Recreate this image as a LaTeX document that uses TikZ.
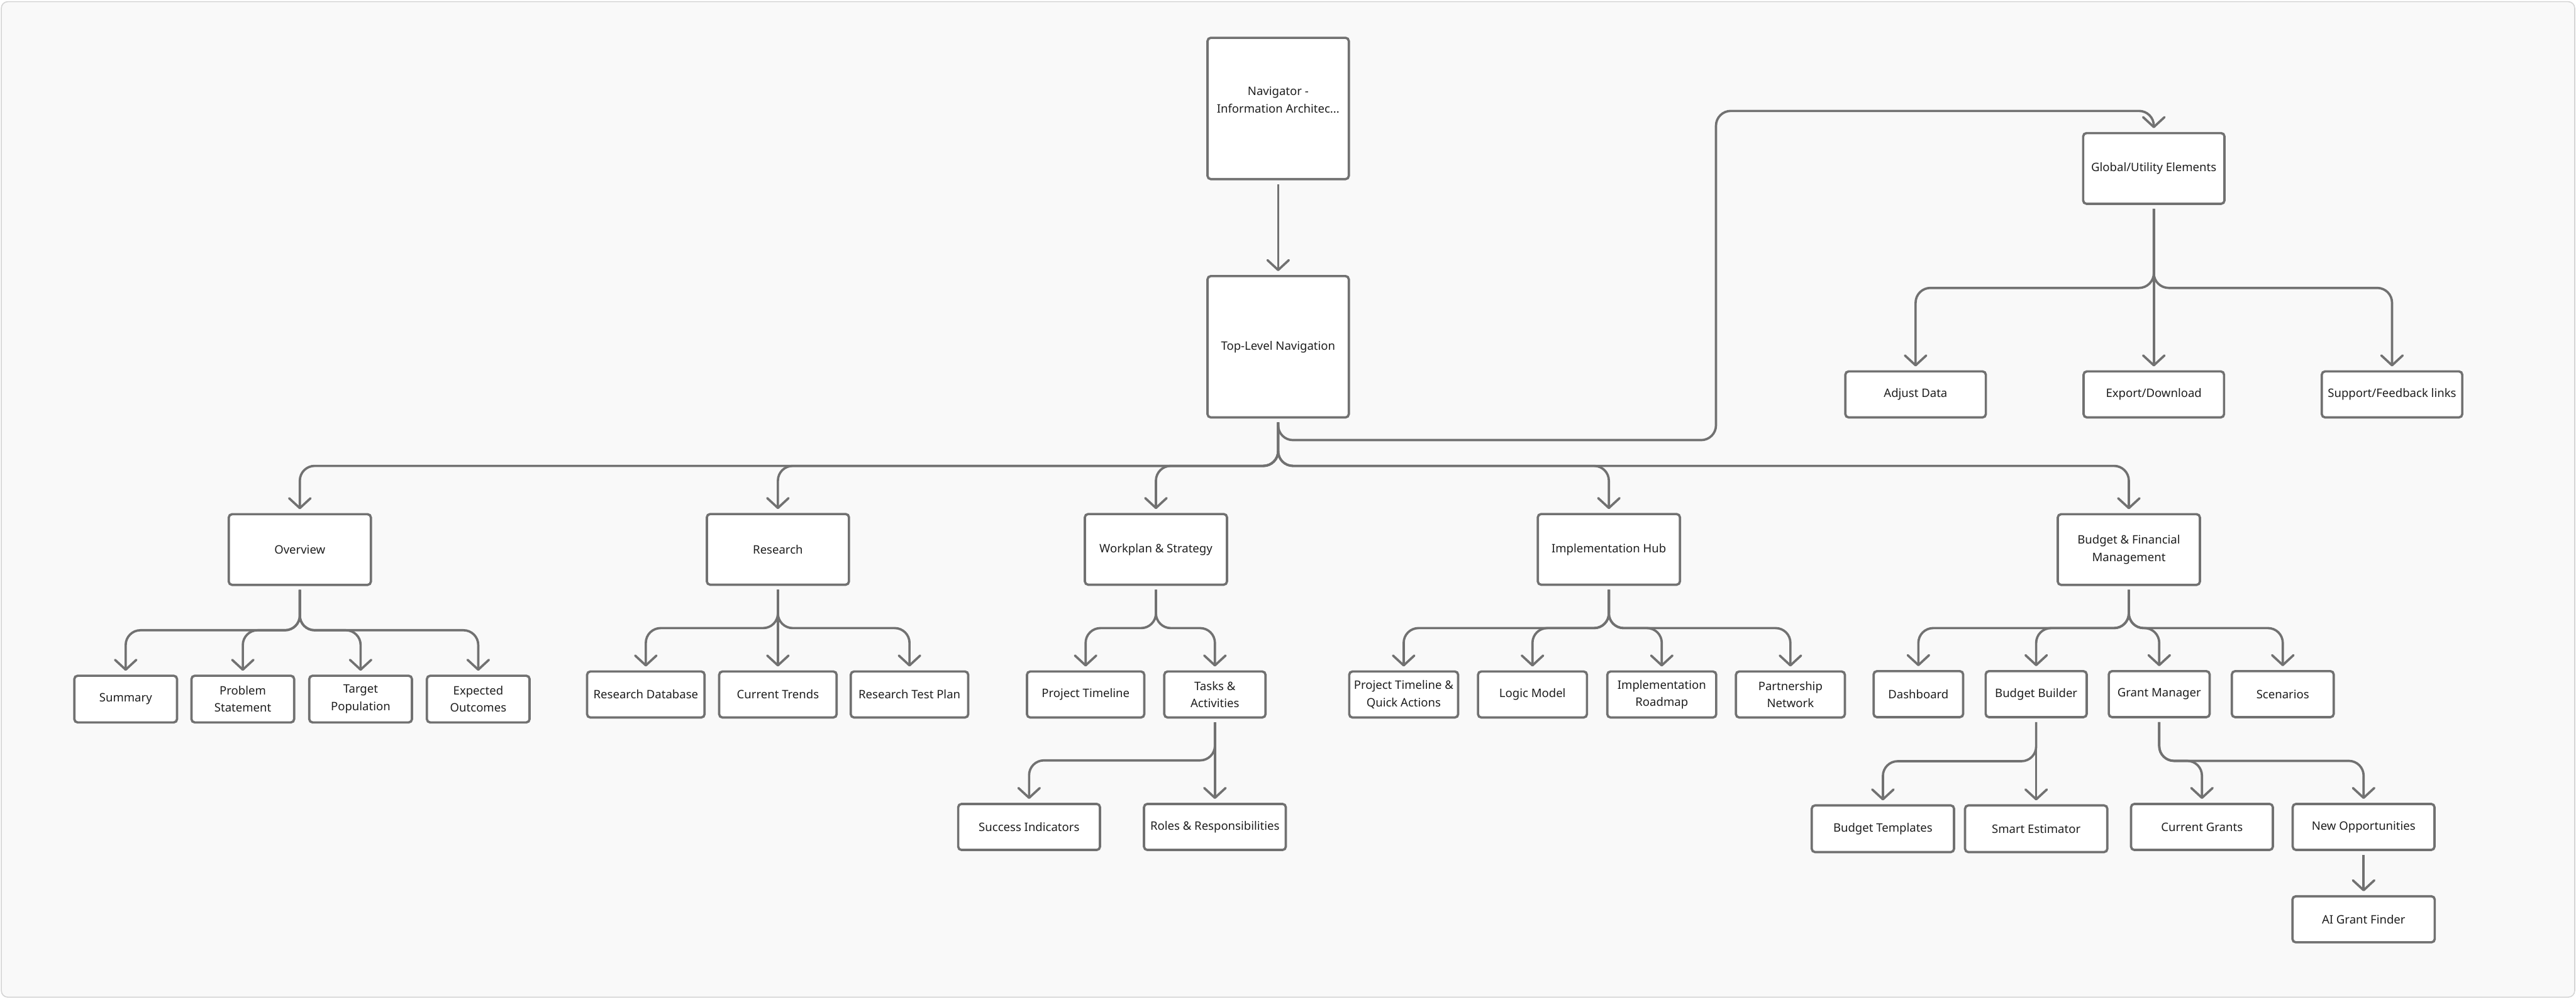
\documentclass[tikz,border=0pt]{standalone}
\usepackage{fontspec}
\setmainfont{Noto Sans}
\usetikzlibrary{arrows.meta}

\definecolor{edgegray}{HTML}{717171}
\definecolor{textdark}{HTML}{1E1E1E}
\definecolor{canvas}{HTML}{F9F9F9}
\definecolor{frame}{HTML}{D4D4D4}

\begin{document}
\begin{tikzpicture}[
  x=1pt, y=-1pt,
  every node/.style={font=\fontsize{7.1}{10.5}\selectfont, text=textdark, align=center},
  box/.style={draw=edgegray, fill=white, line width=1.4pt, rounded corners=2pt,
    inner sep=0pt, outer sep=3pt, minimum height=28pt},
  bigbox/.style={box, minimum width=86pt, minimum height=86pt},
  hub/.style={box, minimum width=86.5pt, minimum height=43pt},
  conn/.style={draw=edgegray, line width=1.4pt, rounded corners=9pt,
    -{Straight Barb[length=6pt,width=13pt,round]}}
]
\useasboundingbox (0,0) rectangle (1568,607.6);
\filldraw[fill=canvas, draw=frame, line width=0.6pt, rounded corners=4pt] (0.8,1) rectangle (1567.2,606.8);

% top of the tree
\node[bigbox] (nav) at (778,66) {Navigator -\\Information Architec...\\\mbox{}};
\node[bigbox] (top) at (778,211) {Top-Level Navigation};

% global / utility branch
\node[hub, minimum width=86pt] (global) at (1311,102.5) {Global/Utility Elements};
\node[box, minimum width=85.5pt] (adjust) at (1166,240) {Adjust Data};
\node[box, minimum width=85.5pt] (export) at (1311,240) {Export/Download};
\node[box, minimum width=85.5pt] (support) at (1456,240) {Support/Feedback links};

% sections
\node[hub] (overview) at (182.5,334.4) {Overview};
\node[hub] (research) at (473.5,334.3) {Research};
\node[hub] (workplan) at (703.6,334.3) {Workplan \& Strategy};
\node[hub] (implhub) at (979.3,334.3) {Implementation Hub};
\node[hub] (budget) at (1295.8,334.4) {Budget \& Financial\\Management};

% overview pages
\node[box, minimum width=62.5pt, minimum height=28.4pt] (summary) at (76.5,425.4) {Summary};
\node[box, minimum width=62.5pt, minimum height=28.4pt] (problem) at (147.8,425.4) {Problem\\Statement};
\node[box, minimum width=62.5pt, minimum height=28.4pt] (target) at (219.5,425.4) {Target\\Population};
\node[box, minimum width=62.5pt, minimum height=28.4pt] (expected) at (291.1,425.4) {Expected\\Outcomes};

% research pages
\node[box, minimum width=71.5pt] (resdb) at (393.1,422.6) {Research Database};
\node[box, minimum width=71.5pt] (trends) at (473.5,422.6) {Current Trends};
\node[box, minimum width=71.5pt] (testplan) at (553.6,422.6) {Research Test Plan};

% workplan pages
\node[box, minimum width=71.4pt] (timeline) at (660.8,422.6) {Project Timeline};
\node[box, minimum width=61.6pt] (tasks) at (739.5,422.6) {Tasks \&\\Activities};
\node[box, minimum width=86.3pt] (success) at (626.4,503.2) {Success Indicators};
\node[box, minimum width=86.3pt] (roles) at (739.5,503.2) {Roles \& Responsibilities};

% implementation pages
\node[box, minimum width=66.3pt] (ptqa) at (854.4,422.6) {Project Timeline \&\\Quick Actions};
\node[box, minimum width=66.3pt] (logic) at (932.8,422.6) {Logic Model};
\node[box, minimum width=66.3pt] (roadmap) at (1011.5,422.6) {Implementation\\Roadmap};
\node[box, minimum width=66.3pt] (partner) at (1089.8,422.6) {Partnership\\Network};

% budget pages
\node[box, minimum width=54.5pt] (dashboard) at (1167.7,422.4) {Dashboard};
\node[box, minimum width=61.5pt] (builder) at (1239.4,422.4) {Budget Builder};
\node[box, minimum width=61.4pt] (grantmgr) at (1314.3,422.4) {Grant Manager};
\node[box, minimum width=62pt] (scenarios) at (1389.5,422.4) {Scenarios};
\node[box, minimum width=86.6pt, minimum height=28.4pt] (templates) at (1146.1,504.3) {Budget Templates};
\node[box, minimum width=86.6pt, minimum height=28.4pt] (estimator) at (1239.4,504.3) {Smart Estimator};
\node[box, minimum width=86.3pt] (current) at (1340.3,503.2) {Current Grants};
\node[box, minimum width=86.3pt] (newopp) at (1438.7,503.2) {New Opportunities};
\node[box, minimum width=86.6pt] (aifinder) at (1438.7,559.4) {AI Grant Finder};

% branch heights
\coordinate (trunk) at (778,283.5);
\coordinate (gl1) at (1044.5,267.8);
\coordinate (gl2) at (1044.5,67.5);
\coordinate (glb) at (1311,175.2);
\coordinate (ovb) at (182.5,383.5);
\coordinate (rsb) at (473.5,382.2);
\coordinate (wpb) at (703.6,382.2);
\coordinate (tab) at (739.5,462.7);
\coordinate (ihb) at (979.3,382.2);
\coordinate (bfb) at (1295.8,382.2);
\coordinate (bbb) at (1239.4,463.2);
\coordinate (gmb) at (1314.3,463);

% connectors
\draw[conn] (nav) -- (top);
\draw[conn] (top) |- (gl1) -- (gl2) -| (global);
\foreach \c in {overview,research,workplan,implhub,budget}
  \draw[conn] (top) |- (\c |- trunk) -- (\c);

\draw[conn] (global) -- (export);
\foreach \c in {adjust,support}
  \draw[conn] (global) |- (\c |- glb) -- (\c);

\foreach \c in {summary,problem,target,expected}
  \draw[conn] (overview) |- (\c |- ovb) -- (\c);

\draw[conn] (research) -- (trends);
\foreach \c in {resdb,testplan}
  \draw[conn] (research) |- (\c |- rsb) -- (\c);

\foreach \c in {timeline,tasks}
  \draw[conn] (workplan) |- (\c |- wpb) -- (\c);
\draw[conn] (tasks) -- (roles);
\draw[conn] (tasks) |- (success |- tab) -- (success);

\foreach \c in {ptqa,logic,roadmap,partner}
  \draw[conn] (implhub) |- (\c |- ihb) -- (\c);

\foreach \c in {dashboard,builder,grantmgr,scenarios}
  \draw[conn] (budget) |- (\c |- bfb) -- (\c);
\draw[conn] (builder) -- (estimator);
\draw[conn] (builder) |- (templates |- bbb) -- (templates);
\foreach \c in {current,newopp}
  \draw[conn] (grantmgr) |- (\c |- gmb) -- (\c);
\draw[conn] (newopp) -- (aifinder);
\end{tikzpicture}
\end{document}
